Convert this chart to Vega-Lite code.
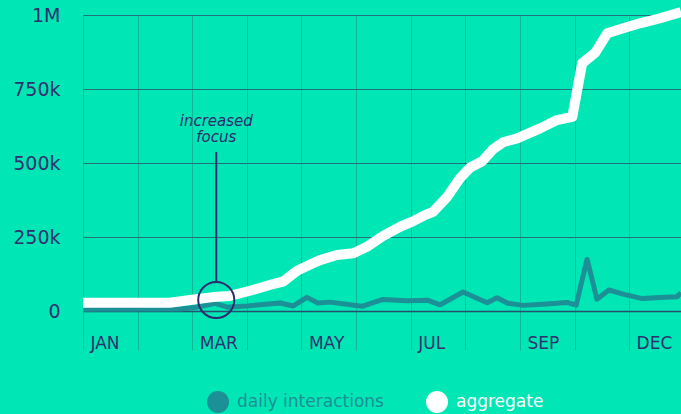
{
  "$schema": "https://vega.github.io/schema/vega-lite/v6.json",
  "width": 598,
  "height": 296,
  "autosize": "none",
  "padding": {"left": 83, "top": 15, "right": 0, "bottom": 103},
  "background": "#00e6b4",
  "config": {
    "view": {"stroke": null},
    "font": "DejaVu Sans"
  },
  "datasets": {
    "series": [
      {"m": 0.00, "v": 6000, "series": "daily interactions"},
      {"m": 1.78, "v": 7000, "series": "daily interactions"},
      {"m": 2.05, "v": 12000, "series": "daily interactions"},
      {"m": 2.42, "v": 26000, "series": "daily interactions"},
      {"m": 2.64, "v": 13000, "series": "daily interactions"},
      {"m": 3.00, "v": 17000, "series": "daily interactions"},
      {"m": 3.61, "v": 27000, "series": "daily interactions"},
      {"m": 3.85, "v": 17000, "series": "daily interactions"},
      {"m": 4.10, "v": 46000, "series": "daily interactions"},
      {"m": 4.30, "v": 27000, "series": "daily interactions"},
      {"m": 4.52, "v": 30000, "series": "daily interactions"},
      {"m": 5.11, "v": 16000, "series": "daily interactions"},
      {"m": 5.49, "v": 39000, "series": "daily interactions"},
      {"m": 5.93, "v": 35000, "series": "daily interactions"},
      {"m": 6.32, "v": 36000, "series": "daily interactions"},
      {"m": 6.54, "v": 21000, "series": "daily interactions"},
      {"m": 6.96, "v": 64000, "series": "daily interactions"},
      {"m": 7.40, "v": 28000, "series": "daily interactions"},
      {"m": 7.58, "v": 45000, "series": "daily interactions"},
      {"m": 7.78, "v": 26000, "series": "daily interactions"},
      {"m": 8.06, "v": 19000, "series": "daily interactions"},
      {"m": 8.42, "v": 23000, "series": "daily interactions"},
      {"m": 8.86, "v": 29000, "series": "daily interactions"},
      {"m": 9.03, "v": 20000, "series": "daily interactions"},
      {"m": 9.23, "v": 175000, "series": "daily interactions"},
      {"m": 9.41, "v": 40000, "series": "daily interactions"},
      {"m": 9.63, "v": 71000, "series": "daily interactions"},
      {"m": 9.89, "v": 57000, "series": "daily interactions"},
      {"m": 10.24, "v": 42000, "series": "daily interactions"},
      {"m": 10.57, "v": 46000, "series": "daily interactions"},
      {"m": 10.88, "v": 48000, "series": "daily interactions"},
      {"m": 10.95, "v": 62000, "series": "daily interactions"},
      {"m": 0.00, "v": 28000, "series": "aggregate"},
      {"m": 1.59, "v": 28000, "series": "aggregate"},
      {"m": 1.96, "v": 37000, "series": "aggregate"},
      {"m": 2.38, "v": 47000, "series": "aggregate"},
      {"m": 2.69, "v": 51000, "series": "aggregate"},
      {"m": 3.11, "v": 71000, "series": "aggregate"},
      {"m": 3.42, "v": 88000, "series": "aggregate"},
      {"m": 3.66, "v": 99000, "series": "aggregate"},
      {"m": 3.92, "v": 136000, "series": "aggregate"},
      {"m": 4.21, "v": 161000, "series": "aggregate"},
      {"m": 4.34, "v": 172000, "series": "aggregate"},
      {"m": 4.65, "v": 189000, "series": "aggregate"},
      {"m": 4.95, "v": 195000, "series": "aggregate"},
      {"m": 5.20, "v": 217000, "series": "aggregate"},
      {"m": 5.49, "v": 253000, "series": "aggregate"},
      {"m": 5.81, "v": 285000, "series": "aggregate"},
      {"m": 6.03, "v": 302000, "series": "aggregate"},
      {"m": 6.26, "v": 324000, "series": "aggregate"},
      {"m": 6.41, "v": 335000, "series": "aggregate"},
      {"m": 6.67, "v": 386000, "series": "aggregate"},
      {"m": 6.90, "v": 448000, "series": "aggregate"},
      {"m": 7.09, "v": 485000, "series": "aggregate"},
      {"m": 7.31, "v": 506000, "series": "aggregate"},
      {"m": 7.51, "v": 547000, "series": "aggregate"},
      {"m": 7.69, "v": 570000, "series": "aggregate"},
      {"m": 7.95, "v": 583000, "series": "aggregate"},
      {"m": 8.37, "v": 617000, "series": "aggregate"},
      {"m": 8.68, "v": 645000, "series": "aggregate"},
      {"m": 8.96, "v": 656000, "series": "aggregate"},
      {"m": 9.14, "v": 837000, "series": "aggregate"},
      {"m": 9.38, "v": 873000, "series": "aggregate"},
      {"m": 9.60, "v": 938000, "series": "aggregate"},
      {"m": 9.89, "v": 955000, "series": "aggregate"},
      {"m": 10.20, "v": 972000, "series": "aggregate"},
      {"m": 10.57, "v": 989000, "series": "aggregate"},
      {"m": 10.95, "v": 1010000, "series": "aggregate"}
    ],
    "note": [
      {"m": 2.44, "top": 537000, "bottom": 95000, "cy": 37000, "ty": 642000, "label": "increased\nfocus"}
    ]
  },
  "encoding": {
    "x": {
      "field": "m", "type": "quantitative",
      "scale": {"domain": [0, 10.95], "nice": false, "zero": false},
      "axis": {
        "title": null,
        "values": [0, 1, 2, 3, 4, 5, 6, 7, 8, 9, 10],
        "labelExpr": "datum.value == 0 ? 'JAN' : datum.value == 2 ? 'MAR' : datum.value == 4 ? 'MAY' : datum.value == 6 ? 'JUL' : datum.value == 8 ? 'SEP' : datum.value == 10 ? 'DEC' : ''",
        "grid": true,
        "gridColor": "#14b699",
        "gridWidth": 1,
        "ticks": true,
        "tickSize": 39,
        "tickColor": "#14b699",
        "tickWidth": 1,
        "domain": true,
        "domainColor": "#27506e",
        "domainWidth": 1.5,
        "labelAlign": "left",
        "labelBaseline": "middle",
        "labelOffset": 7,
        "labelPadding": -7,
        "labelFontSize": 17,
        "labelColor": "#2d2f6e",
        "labelFlush": false,
        "labelOverlap": false
      }
    },
    "y": {
      "field": "v", "type": "quantitative",
      "scale": {"domain": [0, 1000000], "nice": false},
      "axis": {
        "title": null,
        "values": [0, 250000, 500000, 750000, 1000000],
        "labelExpr": "datum.value == 0 ? '0' : datum.value >= 1000000 ? '1M' : (datum.value / 1000) + 'k'",
        "grid": true,
        "gridColor": "#21717a",
        "gridWidth": 1.2,
        "ticks": false,
        "domain": false,
        "labelPadding": 23,
        "labelFontSize": 19,
        "labelColor": "#2d2f6e",
        "labelFlush": false
      }
    }
  },
  "layer": [
    {
      "data": {"name": "series"},
      "transform": [{"filter": "datum.series == 'daily interactions'"}],
      "mark": {"type": "line", "clip": false, "strokeJoin": "round", "strokeWidth": 5},
      "encoding": {
        "color": {
          "field": "series", "type": "nominal",
          "scale": {"domain": ["daily interactions", "aggregate"], "range": ["#1b9096", "#ffffff"]},
          "legend": {
            "title": null,
            "orient": "none",
            "direction": "horizontal",
            "legendX": 124,
            "legendY": 376,
            "symbolType": "circle",
            "symbolSize": 484,
            "symbolStrokeWidth": 0,
            "labelFontSize": 17,
            "labelOffset": 8,
            "columnPadding": 42,
            "encode": {
              "symbols": {"update": {"fill": {"scale": "color", "field": "value"}, "stroke": {"value": "transparent"}, "strokeWidth": {"value": 0}}},
              "labels": {"update": {"fill": {"scale": "color", "field": "value"}}}
            }
          }
        }
      }
    },
    {
      "data": {"name": "series"},
      "transform": [{"filter": "datum.series == 'aggregate'"}],
      "mark": {"type": "line", "clip": false, "strokeJoin": "round", "strokeWidth": 10},
      "encoding": {
        "color": {"field": "series", "type": "nominal"}
      }
    },
    {
      "data": {"name": "note"},
      "mark": {"type": "rule", "color": "#2d2a6e", "strokeWidth": 2},
      "encoding": {
        "y": {"field": "top", "type": "quantitative"},
        "y2": {"field": "bottom"}
      }
    },
    {
      "data": {"name": "note"},
      "mark": {"type": "point", "shape": "circle", "size": 1300, "filled": false, "stroke": "#2d2a6e", "strokeWidth": 2, "opacity": 1},
      "encoding": {
        "y": {"field": "cy", "type": "quantitative"}
      }
    },
    {
      "data": {"name": "note"},
      "mark": {"type": "text", "lineBreak": "\n", "fontStyle": "italic", "fontSize": 15, "lineHeight": 16, "color": "#2d2a6e", "align": "center", "baseline": "middle"},
      "encoding": {
        "y": {"field": "ty", "type": "quantitative"},
        "text": {"field": "label"}
      }
    }
  ]
}
